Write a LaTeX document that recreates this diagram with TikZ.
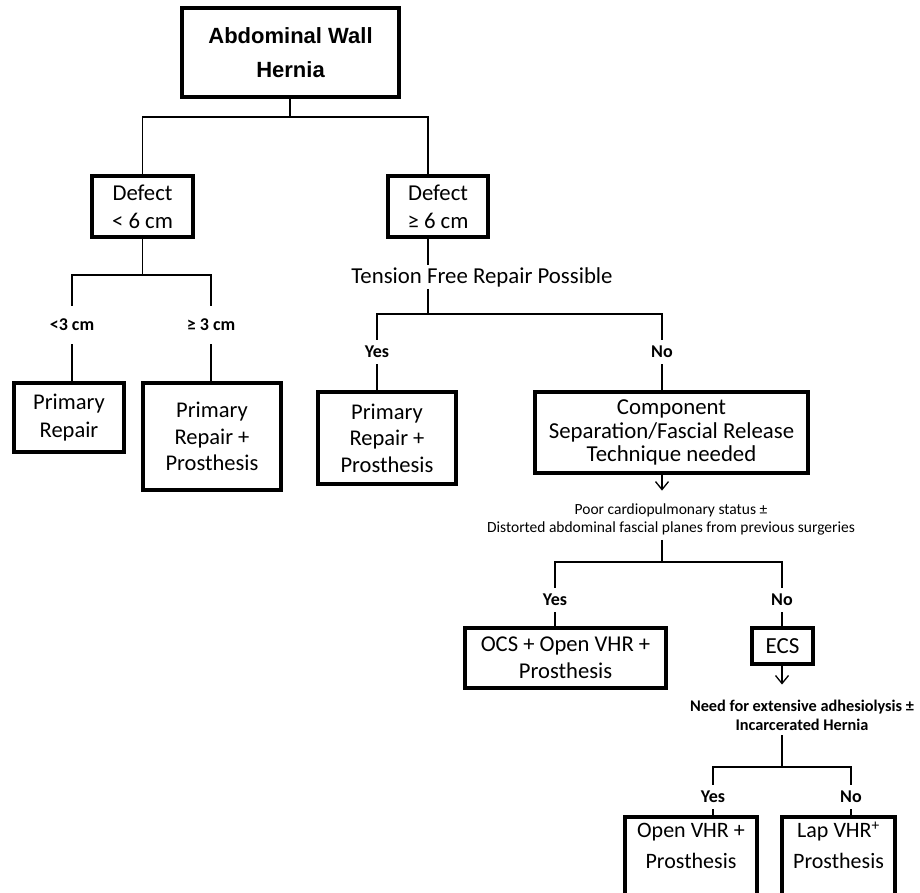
\documentclass[tikz,border=0pt]{standalone}
\usepackage{fontspec}
\setmainfont{Carlito}
\newfontfamily\headfont{Liberation Sans}
\usetikzlibrary{arrows.meta}
\begin{document}
\begin{tikzpicture}[x=1pt,y=-1pt,
  box/.style={draw, line width=3.2pt, align=center, inner sep=0pt},
  conn/.style={line width=1.3pt},
  arr/.style={line width=1.3pt, -{Straight Barb[length=8pt,width=13pt,line width=1.3pt]}},
  lbl/.style={font=\fontsize{18}{21}\selectfont\bfseries, inner xsep=1pt, inner ysep=4pt, text height=13pt, text depth=3pt},
  big/.style={font=\fontsize{22.5}{26.5}\selectfont},
  small/.style={font=\fontsize{15.5}{18}\selectfont, align=center, inner xsep=0pt, inner ysep=5pt},
  boxlabel/.style={font=\fontsize{22}{31}\selectfont, align=center, anchor=north, inner sep=0pt, yshift=-8pt}
]
\clip (0,0) rectangle (920,893);
\fill[white] (0,0) rectangle (920,893);

% level 1
\node[box, font=\headfont\bfseries\fontsize{22}{34}\selectfont, minimum width=217pt, minimum height=89pt] (top) at (290.5,52.5) {Abdominal Wall\\Hernia};
\coordinate (j1) at (290,117);

% level 2
\node[box, font=\fontsize{22.7}{28}\selectfont, minimum width=101pt, minimum height=61pt] (d1) at (142.5,206.5) {Defect\\< 6 cm};
\node[box, font=\fontsize{22.7}{28}\selectfont, minimum width=100pt, minimum height=61pt] (d2) at (438,206.5) {Defect\\≥ 6 cm};

% left branch
\coordinate (j2) at (142.5,275);
\node[lbl, inner ysep=11pt] (lt3) at (72,325) {<3 cm};
\node[lbl, inner ysep=11pt] (ge3) at (211,325) {≥ 3 cm};
\node[box, font=\fontsize{22.5}{27.5}\selectfont, minimum width=110pt, minimum height=69pt] (pr1) at (69,417.5) {Primary\\Repair};
\node[box, big, minimum width=138pt, minimum height=107pt] (pr2) at (212,436.5) {Primary\\Repair +\\Prosthesis};

% right branch
\node[font=\fontsize{22.8}{26}\selectfont, inner ysep=2pt] (ten) at (482,277) {Tension Free Repair Possible};
\coordinate (j3) at (428,314);
\node[lbl] (yes1) at (377,352) {Yes};
\node[lbl] (no1) at (662,352) {No};
\node[box, big, minimum width=138pt, minimum height=92pt] (pr3) at (387,438) {Primary\\Repair +\\Prosthesis};
\node[box, font=\fontsize{22.8}{23.5}\selectfont, minimum width=273pt, minimum height=81pt] (comp) at (671.5,432.5) {Component\\Separation/Fascial Release\\Technique needed};

\node[small] (poor) at (671,519) {Poor cardiopulmonary status ±\\Distorted abdominal fascial planes from previous surgeries};
\coordinate (j4) at (662,562);
\node[lbl] (yes2) at (555,600) {Yes};
\node[lbl] (no2) at (782,600) {No};
\node[box, font=\fontsize{22.6}{27}\selectfont, minimum width=201pt, minimum height=60pt] (ocs) at (565.5,658) {OCS + Open VHR +\\Prosthesis};
\node[box, font=\fontsize{23}{27}\selectfont, minimum width=61pt, minimum height=36pt] (ecs) at (782.5,646) {ECS};

\node[small, font=\fontsize{16.3}{19}\selectfont\bfseries] (need) at (802,715) {Need for extensive adhesiolysis ±\\Incarcerated Hernia};
\coordinate (j5) at (782,767);
\node[lbl] (yes3) at (713,797) {Yes};
\node[lbl] (no3) at (851,797) {No};
\node[box, minimum width=132pt, minimum height=100pt,
  label={[boxlabel]north:Open VHR +\\Prosthesis}] (ov) at (691,867) {};
\node[box, minimum width=113pt, minimum height=100pt,
  label={[boxlabel]north:Lap VHR\smash{\textsuperscript{+}}\\Prosthesis}] (lap) at (838.5,867) {};

% connectors
\draw[conn] (top.south -| j1) -- (j1);
\draw[conn] (d1.north) |- (j1) -| (d2.north -| j3);
\draw[conn] (d1.south) -- (j2);
\draw[conn] (lt3.north) |- (j2) -| (ge3.north);
\draw[conn] (lt3.south) -- (lt3.south |- pr1.north);
\draw[conn] (ge3.south) -- (ge3.south |- pr2.north);

\draw[conn] (d2.south -| j3) -- (ten.north -| j3);
\draw[conn] (ten.south -| j3) -- (j3);
\draw[conn] (yes1.north) |- (j3) -| (no1.north);
\draw[conn] (yes1.south) -- (yes1.south |- pr3.north);
\draw[conn] (no1.south) -- (no1.south |- comp.north);
\draw[arr, shorten >=7.5pt] (comp.south -| j4) -- (poor.north -| j4);

\draw[conn] (poor.south -| j4) -- (j4);
\draw[conn] (yes2.north) |- (j4) -| (no2.north);
\draw[conn] (yes2.south) -- (yes2.south |- ocs.north);
\draw[conn] (no2.south) -- (no2.south |- ecs.north);
\draw[arr, shorten >=10pt] (ecs.south -| j5) -- (need.north -| j5);

\draw[conn] (need.south -| j5) -- (j5);
\draw[conn] (yes3.north) |- (j5) -| (no3.north);
\draw[conn] (yes3.south) -- (yes3.south |- ov.north);
\draw[conn] (no3.south) -- (no3.south |- lap.north);
\end{tikzpicture}
\end{document}
